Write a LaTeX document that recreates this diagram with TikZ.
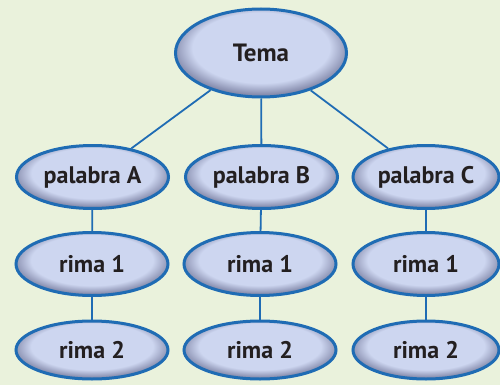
\documentclass[tikz,border=0pt]{standalone}
\usepackage{fontspec}
\setmainfont{PT Sans}
\usetikzlibrary{shapes.geometric}
\definecolor{bg}{HTML}{EAF2DC}
\definecolor{lav}{HTML}{CDD6F0}
\definecolor{lavdark}{HTML}{858BAC}
\definecolor{edge}{HTML}{1F6CB4}
\definecolor{txt}{HTML}{231F20}
\pgfdeclareradialshading{ellshade}{\pgfpoint{0bp}{5bp}}{color(0bp)=(lav); color(20bp)=(lav); color(26bp)=(lavdark); color(50bp)=(lavdark)}
\tikzset{
  bubble/.style={ellipse, draw=edge, line width=3pt, shading=ellshade,
    minimum width=#1, inner sep=0pt, font=\bfseries\fontsize{24}{28}\selectfont, text=txt},
  bubble/.default=152pt,
  link/.style={draw=edge, line width=1.8pt}
}
\begin{document}
\begin{tikzpicture}[x=1pt,y=-1pt]
\fill[bg] (0,0) rectangle (500,385);
\useasboundingbox (0,0) rectangle (500,385);
\node[bubble=171pt, minimum height=88pt, font=\bfseries\fontsize{25}{28}\selectfont] (tema) at (261,53) {Tema};
\node[bubble, minimum height=63pt] (pa) at (92.5,177) {palabra A};
\node[bubble, minimum height=63pt] (pb) at (261.5,177) {palabra B};
\node[bubble=146pt, minimum height=63pt] (pc) at (426,177) {palabra C};
\node[bubble, minimum height=63pt] (ra1) at (92,264) {rima 1};
\node[bubble, minimum height=63pt] (rb1) at (260,264) {rima 1};
\node[bubble=146pt, minimum height=63pt] (rc1) at (426,264) {rima 1};
\node[bubble, minimum height=58pt] (ra2) at (92,350) {rima 2};
\node[bubble, minimum height=58pt] (rb2) at (260,350) {rima 2};
\node[bubble=146pt, minimum height=58pt] (rc2) at (426,350) {rima 2};
\draw[link] (tema) -- (pa);
\draw[link] (tema) -- (pb);
\draw[link] (tema) -- (pc);
\draw[link] (pa) -- (ra1);
\draw[link] (pb) -- (rb1);
\draw[link] (pc) -- (rc1);
\draw[link] (ra1) -- (ra2);
\draw[link] (rb1) -- (rb2);
\draw[link] (rc1) -- (rc2);
\end{tikzpicture}
\end{document}
